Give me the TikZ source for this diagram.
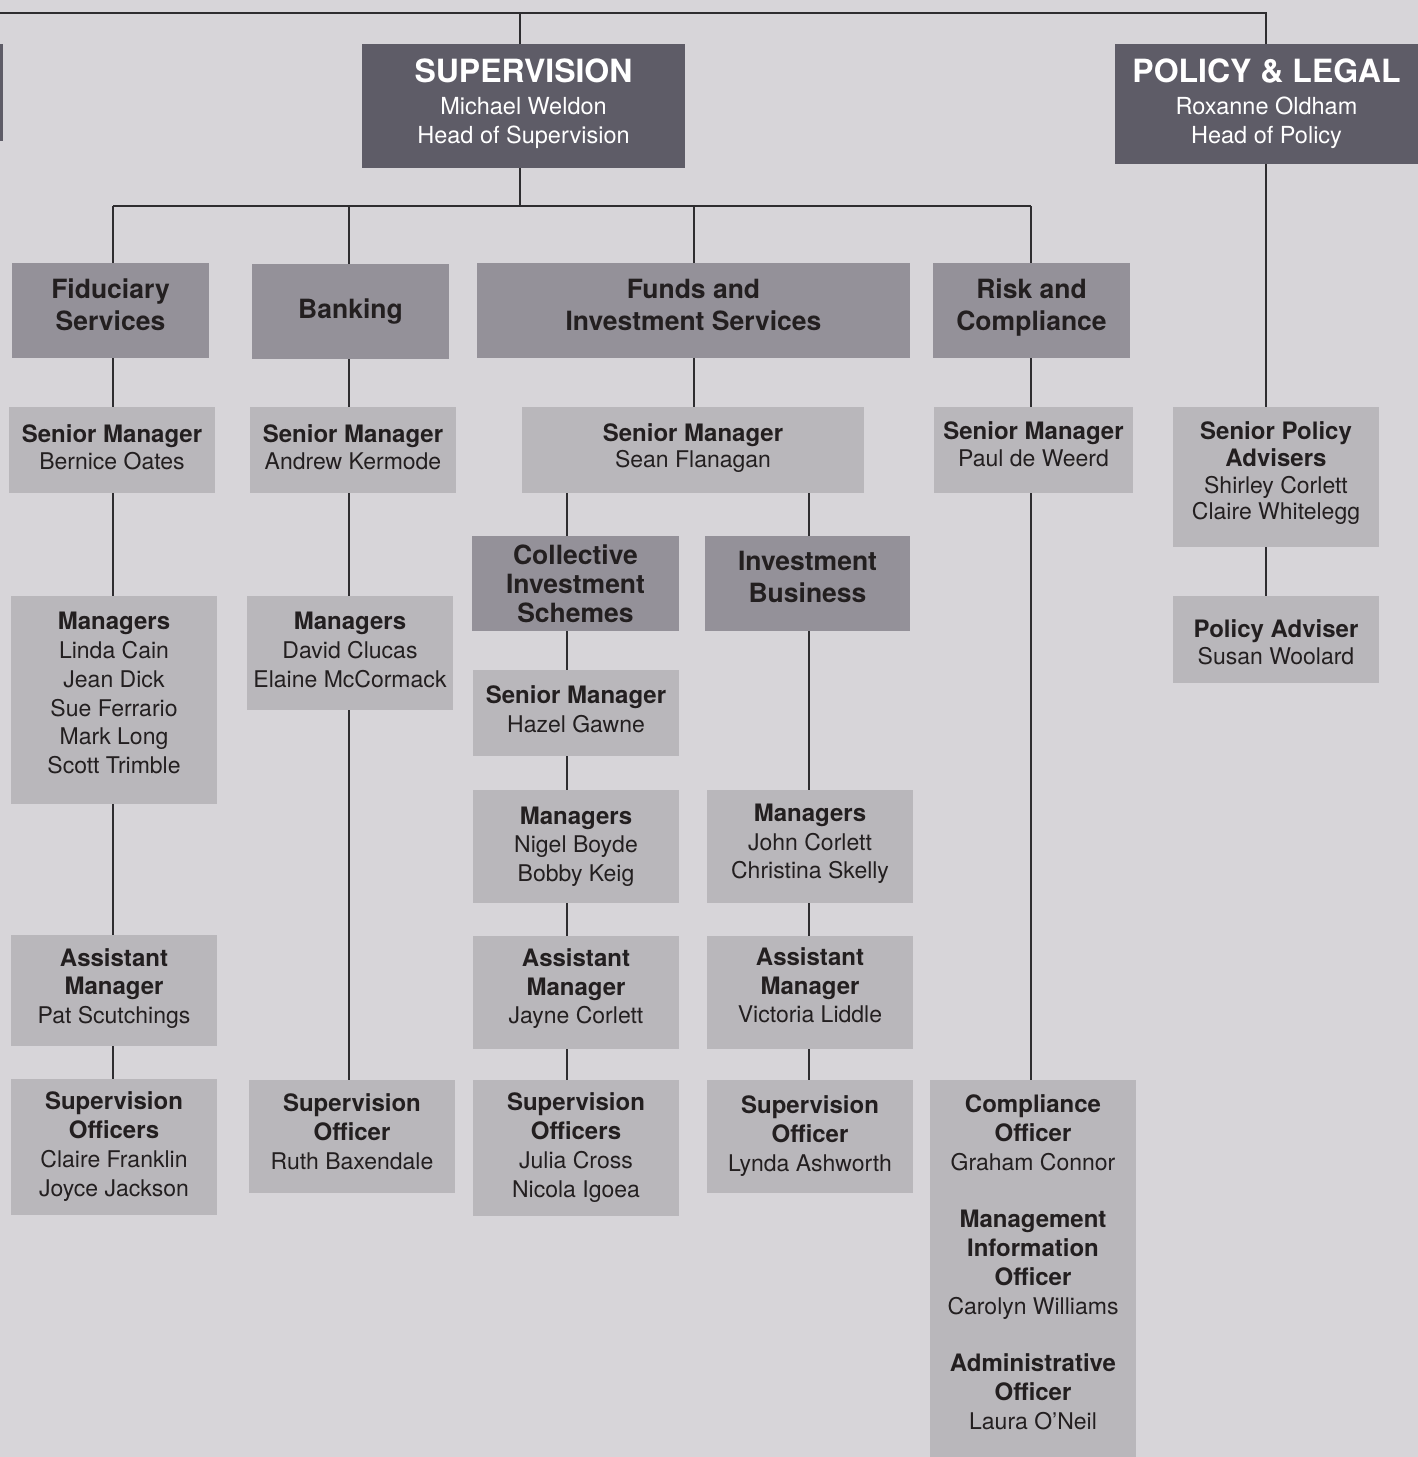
\documentclass[tikz,border=0pt]{standalone}
\usepackage{fontspec}
\setmainfont{TeX Gyre Heros}
\definecolor{bgc}{HTML}{D7D5D9}
\definecolor{darkc}{HTML}{5E5C67}
\definecolor{midc}{HTML}{949199}
\definecolor{lightc}{HTML}{B9B7BB}
\definecolor{txtc}{HTML}{231F20}
\definecolor{linec}{HTML}{2E2D30}
\newcommand\ttl[1]{{\fontsize{24}{28}\selectfont\bfseries #1}}
\newcommand\bigttl[1]{{\fontsize{32}{36}\selectfont\bfseries #1}}
\tikzset{
  box/.style={rectangle, inner sep=0pt, align=center, text=txtc,
    font=\fontsize{23}{28.5}\selectfont},
  darkbox/.style={box, fill=darkc, text=white, font=\fontsize{23.5}{29}\selectfont},
  midbox/.style={box, fill=midc, font=\fontsize{26.5}{32}\selectfont\bfseries},
  lightbox/.style={box, fill=lightc},
  conn/.style={draw=linec, line width=1.3pt},
}
\begin{document}
\begin{tikzpicture}[x=1pt,y=-1pt]
\fill[bgc] (0,0) rectangle (1418,1457);
\useasboundingbox (0,0) rectangle (1418,1457);
% top level
\node[darkbox, minimum width=2.5pt, minimum height=97pt] (lft) at (1.25,92.5) {};
\node[darkbox, minimum width=323pt, minimum height=124pt, text depth=10pt] (sup) at (523.5,106)
  {\bigttl{SUPERVISION}\\[3pt]Michael Weldon\\Head of Supervision};
\node[darkbox, minimum width=303pt, minimum height=120pt] (pol) at (1266.5,104)
  {\bigttl{POLICY \& LEGAL}\\[3pt]Roxanne Oldham\\Head of Policy};
% level 2
\node[midbox, minimum width=197pt, minimum height=95pt, text depth=12pt] (fid) at (110.5,310.5) {Fiduciary\\Services};
\node[midbox, minimum width=197pt, minimum height=95pt] (bank) at (350.5,311.5) {Banking};
\node[midbox, minimum width=433pt, minimum height=95pt, text depth=12pt] (funds) at (693.5,310.5) {Funds and\\Investment Services};
\node[midbox, minimum width=197pt, minimum height=95pt, text depth=11pt] (risk) at (1031.5,310.5) {Risk and\\Compliance};
% level 3
\node[lightbox, minimum width=206pt, minimum height=86pt, font=\fontsize{23}{27}\selectfont, text depth=6pt] (smf) at (112,450) {\ttl{Senior Manager}\\Bernice Oates};
\node[lightbox, minimum width=206pt, minimum height=86pt, font=\fontsize{23}{27}\selectfont, text depth=6pt] (smb) at (353,450) {\ttl{Senior Manager}\\Andrew Kermode};
\node[lightbox, minimum width=342pt, minimum height=86pt, font=\fontsize{23}{26.5}\selectfont, text depth=9pt] (smfu) at (693,450) {\ttl{Senior Manager}\\Sean Flanagan};
\node[lightbox, minimum width=199pt, minimum height=86pt, font=\fontsize{23}{27}\selectfont, text depth=12pt] (smr) at (1033.5,450) {\ttl{Senior Manager}\\Paul de Weerd};
\node[lightbox, minimum width=206pt, minimum height=140pt, font=\fontsize{23}{26.7}\selectfont, text depth=12pt] (spa) at (1276,477) {\ttl{Senior Policy}\\\ttl{Advisers}\\Shirley Corlett\\Claire Whitelegg};
\node[lightbox, minimum width=206pt, minimum height=87pt, font=\fontsize{23}{27}\selectfont, text height=50.5pt] (pa) at (1276,639.5) {\ttl{Policy Adviser}\\Susan Woolard};
% fiduciary chain
\node[lightbox, minimum width=206pt, minimum height=208pt, font=\fontsize{23}{28.8}\selectfont, text depth=14pt] (mgf) at (114,700) {\ttl{Managers}\\Linda Cain\\Jean Dick\\Sue Ferrario\\Mark Long\\Scott Trimble};
\node[lightbox, minimum width=206pt, minimum height=111pt, text depth=9pt] (amf) at (114,990.5) {\ttl{Assistant}\\\ttl{Manager}\\Pat Scutchings};
\node[lightbox, minimum width=206pt, minimum height=136pt, font=\fontsize{23}{29}\selectfont] (sof) at (114,1147) {\ttl{Supervision}\\\ttl{Officers}\\Claire Franklin\\Joyce Jackson};
% banking chain
\node[lightbox, minimum width=206pt, minimum height=114pt, font=\fontsize{23}{29}\selectfont, text depth=6pt] (mgb) at (350,653) {\ttl{Managers}\\David Clucas\\Elaine McCormack};
\node[lightbox, minimum width=206pt, minimum height=113pt, font=\fontsize{23}{29}\selectfont, text depth=10pt] (sob) at (352,1136.5) {\ttl{Supervision}\\\ttl{Officer}\\Ruth Baxendale};
% CIS chain
\node[midbox, minimum width=207pt, minimum height=95pt, font=\fontsize{26.5}{29}\selectfont\bfseries] (cis) at (575.5,583.5) {Collective\\Investment\\Schemes};
\node[lightbox, minimum width=206pt, minimum height=86pt, font=\fontsize{23}{29}\selectfont, text depth=8pt] (smc) at (576,713) {\ttl{Senior Manager}\\Hazel Gawne};
\node[lightbox, minimum width=206pt, minimum height=113pt] (mgc) at (576,846.5) {\ttl{Managers}\\Nigel Boyde\\Bobby Keig};
\node[lightbox, minimum width=206pt, minimum height=113pt, text depth=12pt] (amc) at (576,992.5) {\ttl{Assistant}\\\ttl{Manager}\\Jayne Corlett};
\node[lightbox, minimum width=206pt, minimum height=136pt, font=\fontsize{23}{29}\selectfont] (soc) at (576,1148) {\ttl{Supervision}\\\ttl{Officers}\\Julia Cross\\Nicola Igoea};
% IB chain
\node[midbox, minimum width=205pt, minimum height=95pt, text depth=14pt] (ib) at (807.5,583.5) {Investment\\Business};
\node[lightbox, minimum width=206pt, minimum height=113pt, text depth=10pt] (mgi) at (810,846.5) {\ttl{Managers}\\John Corlett\\Christina Skelly};
\node[lightbox, minimum width=206pt, minimum height=113pt, text depth=14pt] (ami) at (810,992.5) {\ttl{Assistant}\\\ttl{Manager}\\Victoria Liddle};
\node[lightbox, minimum width=206pt, minimum height=113pt, font=\fontsize{23}{29}\selectfont, text depth=5pt] (soi) at (810,1136.5) {\ttl{Supervision}\\\ttl{Officer}\\Lynda Ashworth};
% risk chain
\node[lightbox, minimum width=206pt, minimum height=380pt, font=\fontsize{23}{28.8}\selectfont, text depth=16pt] (comp) at (1033,1270)
  {\ttl{Compliance}\\\ttl{Officer}\\Graham Connor\\[28.8pt]\ttl{Management}\\\ttl{Information}\\\ttl{Officer}\\Carolyn Williams\\[28.8pt]\ttl{Administrative}\\\ttl{Officer}\\Laura O’Neil};
% line x positions
\coordinate (topL) at (0,13);
\coordinate (bus) at (0,206);
\coordinate (xs) at (520,0);
\coordinate (xf) at (113,0);
\coordinate (xb) at (349,0);
\coordinate (xu) at (694,0);
\coordinate (xr) at (1031,0);
\coordinate (xc) at (567,0);
\coordinate (xi) at (809,0);
\coordinate (xp) at (1266,0);
% connectors
\draw[conn] (topL) -- (topL -| xp) -- (pol.north -| xp);
\draw[conn] (topL -| xs) -- (sup.north -| xs);
\draw[conn] (sup.south -| xs) -- (bus -| xs);
\draw[conn] (bus -| xf) -- (bus -| xr);
\draw[conn] (bus -| xf) -- (fid.north -| xf);
\draw[conn] (bus -| xb) -- (bank.north -| xb);
\draw[conn] (bus -| xu) -- (funds.north -| xu);
\draw[conn] (bus -| xr) -- (risk.north -| xr);
\draw[conn] (fid.south -| xf) -- (smf.north -| xf);
\draw[conn] (smf.south -| xf) -- (mgf.north -| xf);
\draw[conn] (mgf.south -| xf) -- (amf.north -| xf);
\draw[conn] (amf.south -| xf) -- (sof.north -| xf);
\draw[conn] (bank.south -| xb) -- (smb.north -| xb);
\draw[conn] (smb.south -| xb) -- (mgb.north -| xb);
\draw[conn] (mgb.south -| xb) -- (sob.north -| xb);
\draw[conn] (funds.south -| xu) -- (smfu.north -| xu);
\draw[conn] (smfu.south -| xc) -- (cis.north -| xc);
\draw[conn] (cis.south -| xc) -- (smc.north -| xc);
\draw[conn] (smc.south -| xc) -- (mgc.north -| xc);
\draw[conn] (mgc.south -| xc) -- (amc.north -| xc);
\draw[conn] (amc.south -| xc) -- (soc.north -| xc);
\draw[conn] (smfu.south -| xi) -- (ib.north -| xi);
\draw[conn] (ib.south -| xi) -- (mgi.north -| xi);
\draw[conn] (mgi.south -| xi) -- (ami.north -| xi);
\draw[conn] (ami.south -| xi) -- (soi.north -| xi);
\draw[conn] (risk.south -| xr) -- (smr.north -| xr);
\draw[conn] (smr.south -| xr) -- (comp.north -| xr);
\draw[conn] (pol.south -| xp) -- (spa.north -| xp);
\draw[conn] (spa.south -| xp) -- (pa.north -| xp);
\end{tikzpicture}
\end{document}
